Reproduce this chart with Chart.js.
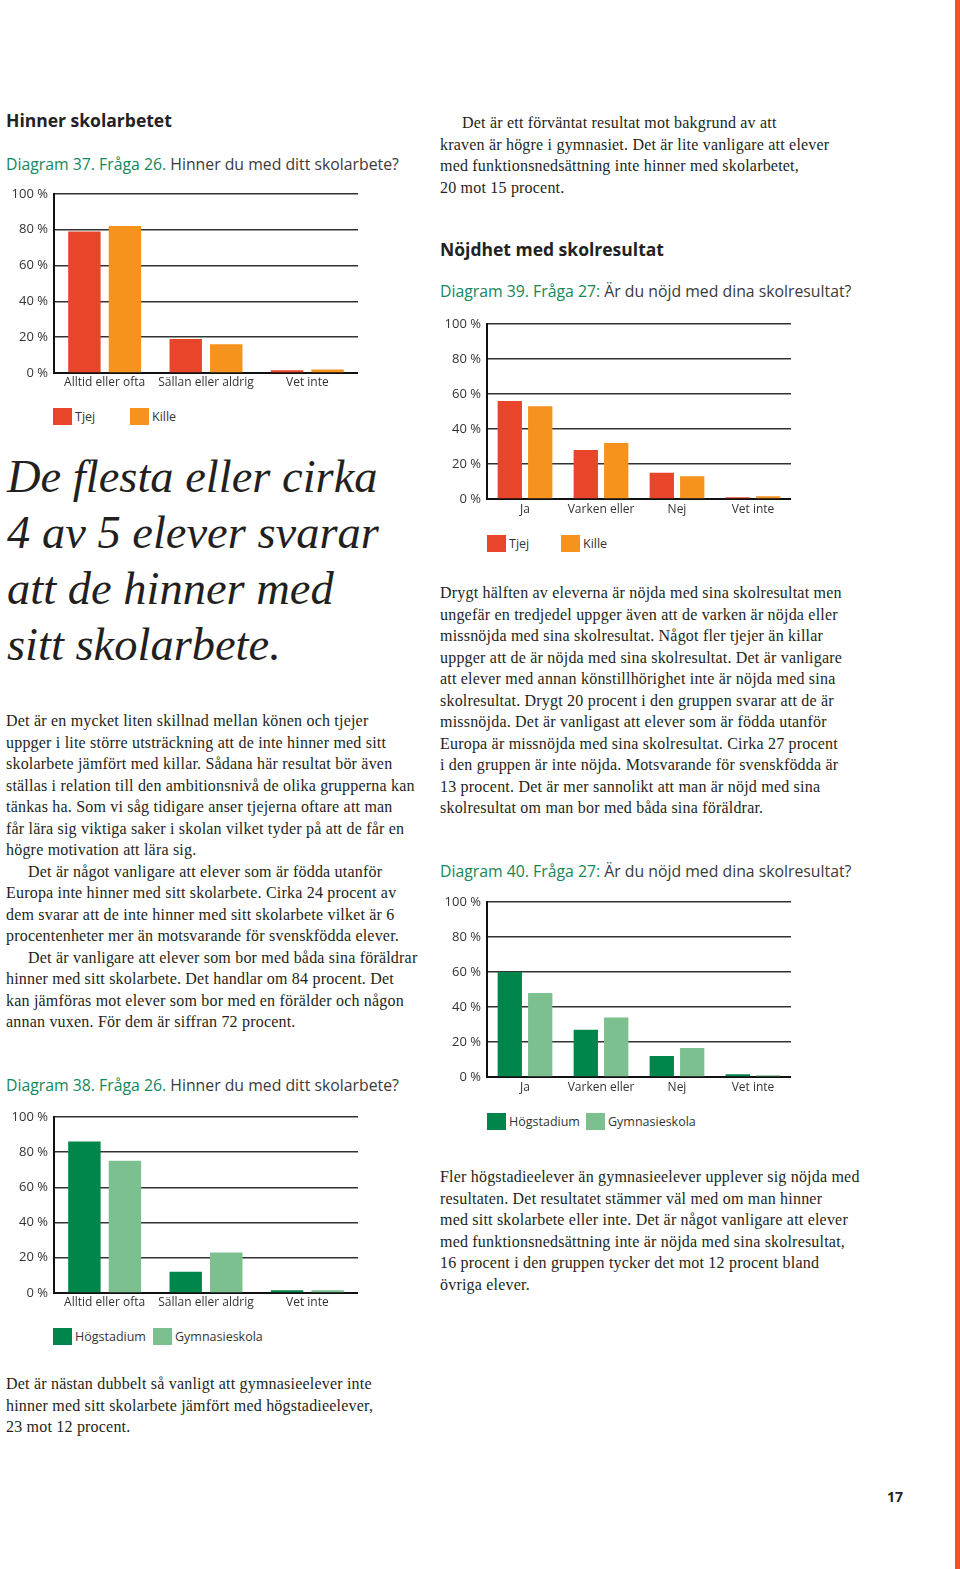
<!DOCTYPE html>
<html lang="sv">
<head>
<meta charset="utf-8">
<title>Hinner skolarbetet</title>
<script src="https://cdn.jsdelivr.net/npm/chart.js"></script>
<style>
    body { margin: 0; background: #fff; }
    #page { position: relative; width: 960px; height: 1569px; overflow: hidden; background: #fff; }
    .abs { position: absolute; white-space: nowrap; }
    .head { font-family: "Open Sans", sans-serif; font-weight: 700; font-size: 17.5px; line-height: 20px; color: #222; }
    .title { font-family: "Open Sans", sans-serif; font-size: 15.8px; line-height: 20px; color: #3a3a3a; }
    .title b { font-weight: 400; color: #13875a; }
    .body { font-family: "Liberation Serif", serif; font-size: 16px; letter-spacing: 0.2px; line-height: 21.5px; color: #231f20; }
    .ind { display: inline-block; width: 22px; }
    .quote { font-family: "Liberation Serif", serif; font-style: italic; font-size: 46.5px; line-height: 56px; color: #231f20; }
    .legend { position: absolute; font-family: "Open Sans", sans-serif; font-size: 12.5px; color: #333; }
    .legend span.item { position: absolute; top: 0; white-space: nowrap; line-height: 17px; }
    .legend i { display: inline-block; width: 19px; height: 17px; vertical-align: top; margin-right: 3px; }
    canvas { position: absolute; }
    #stripe { position: absolute; left: 955px; top: 0; width: 5px; height: 1569px; background: #f05323; }
</style>
</head>
<body>
<div id="page">
    <div id="stripe"></div>

    <div class="abs head" style="left:6px; top:110px;">Hinner skolarbetet</div>
    <div class="abs title" style="left:6px; top:154px;"><b>Diagram 37. Fråga 26.</b> Hinner du med ditt skolarbete?</div>
    <canvas id="chart37" width="358" height="215" style="left:0; top:180px;"></canvas>
    <div class="legend" id="legend37" style="left:53px; top:408px;"></div>

    <div class="abs quote" style="left:7px; top:449px;">De flesta eller cirka<br>4 av 5 elever svarar<br>att de hinner med<br>sitt skolarbete.</div>

    <div class="abs body" style="left:6px; top:710px;">Det är en mycket liten skillnad mellan könen och tjejer<br>uppger i lite större utsträckning att de inte hinner med sitt<br>skolarbete jämfört med killar. Sådana här resultat bör även<br>ställas i relation till den ambitionsnivå de olika grupperna kan<br>tänkas ha. Som vi såg tidigare anser tjejerna oftare att man<br>får lära sig viktiga saker i skolan vilket tyder på att de får en<br>högre motivation att lära sig.<br><span class="ind"></span>Det är något vanligare att elever som är födda utanför<br>Europa inte hinner med sitt skolarbete. Cirka 24 procent av<br>dem svarar att de inte hinner med sitt skolarbete vilket är 6<br>procentenheter mer än motsvarande för svenskfödda elever.<br><span class="ind"></span>Det är vanligare att elever som bor med båda sina föräldrar<br>hinner med sitt skolarbete. Det handlar om 84 procent. Det<br>kan jämföras mot elever som bor med en förälder och någon<br>annan vuxen. För dem är siffran 72 procent.</div>

    <div class="abs title" style="left:6px; top:1075px;"><b>Diagram 38. Fråga 26.</b> Hinner du med ditt skolarbete?</div>
    <canvas id="chart38" width="358" height="212" style="left:0; top:1103px;"></canvas>
    <div class="legend" id="legend38" style="left:53px; top:1328px;"></div>

    <div class="abs body" style="left:6px; top:1373px;">Det är nästan dubbelt så vanligt att gymnasieelever inte<br>hinner med sitt skolarbete jämfört med högstadieelever,<br>23 mot 12 procent.</div>

    <div class="abs body" style="left:440px; top:112px;"><span class="ind"></span>Det är ett förväntat resultat mot bakgrund av att<br>kraven är högre i gymnasiet. Det är lite vanligare att elever<br>med funktionsnedsättning inte hinner med skolarbetet,<br>20 mot 15 procent.</div>

    <div class="abs head" style="left:440px; top:239px;">Nöjdhet med skolresultat</div>
    <div class="abs title" style="left:440px; top:281px;"><b>Diagram 39. Fråga 27:</b> Är du nöjd med dina skolresultat?</div>
    <canvas id="chart39" width="361" height="211" style="left:430px; top:310px;"></canvas>
    <div class="legend" id="legend39" style="left:487px; top:535px;"></div>

    <div class="abs body" style="left:440px; top:582px;">Drygt hälften av eleverna är nöjda med sina skolresultat men<br>ungefär en tredjedel uppger även att de varken är nöjda eller<br>missnöjda med sina skolresultat. Något fler tjejer än killar<br>uppger att de är nöjda med sina skolresultat. Det är vanligare<br>att elever med annan könstillhörighet inte är nöjda med sina<br>skolresultat. Drygt 20 procent i den gruppen svarar att de är<br>missnöjda. Det är vanligast att elever som är födda utanför<br>Europa är missnöjda med sina skolresultat. Cirka 27 procent<br>i den gruppen är inte nöjda. Motsvarande för svenskfödda är<br>13 procent. Det är mer sannolikt att man är nöjd med sina<br>skolresultat om man bor med båda sina föräldrar.</div>

    <div class="abs title" style="left:440px; top:861px;"><b>Diagram 40. Fråga 27:</b> Är du nöjd med dina skolresultat?</div>
    <canvas id="chart40" width="361" height="211" style="left:430px; top:888px;"></canvas>
    <div class="legend" id="legend40" style="left:487px; top:1113px;"></div>

    <div class="abs body" style="left:440px; top:1166px;">Fler högstadieelever än gymnasieelever upplever sig nöjda med<br>resultaten. Det resultatet stämmer väl med om man hinner<br>med sitt skolarbete eller inte. Det är något vanligare att elever<br>med funktionsnedsättning inte är nöjda med sina skolresultat,<br>16 procent i den gruppen tycker det mot 12 procent bland<br>övriga elever.</div>

    <div class="abs head" style="left:887px; top:1487px; font-size:14px;">17</div>
</div>

<script>
// Categories
const hinnerLabels = ['Alltid eller ofta', 'Sällan eller aldrig', 'Vet inte'];
const nojdLabels = ['Ja', 'Varken eller', 'Nej', 'Vet inte'];

// Tick labels for the y axis (0, 20, ... 100)
const yTickLabels = ['0 %', '20 %', '40 %', '60 %', '80 %', '100 %'];

// Series names and colours
const genderNames = ['Tjej', 'Kille'];
const genderColors = ['#e9452a', '#f6921e'];
const schoolNames = ['Högstadium', 'Gymnasieskola'];
const schoolColors = ['#00864b', '#7cc08f'];

// Diagram 37 - hinner du med ditt skolarbete? (kön)
const d37Tjej = [79, 19, 1.5];
const d37Kille = [82, 16, 2];

// Diagram 38 - hinner du med ditt skolarbete? (skolform)
const d38Hog = [86, 12, 1.5];
const d38Gym = [75, 23, 1.5];

// Diagram 39 - är du nöjd med dina skolresultat? (kön)
const d39Tjej = [56, 28, 15, 1];
const d39Kille = [53, 32, 13, 1.5];

// Diagram 40 - är du nöjd med dina skolresultat? (skolform)
const d40Hog = [60, 27, 12, 1.5];
const d40Gym = [48, 34, 16.5, 1];

function makeChart(id, labels, series, names, colors, yWidth, labelPad) {
    const datasets = series.map(function(values, i) {
        return {
            label: names[i],
            data: values,
            backgroundColor: colors[i],
            borderWidth: 0,
            categoryPercentage: 0.8,
            barPercentage: 0.8
        };
    });
    return new Chart(document.getElementById(id), {
        type: 'bar',
        data: { labels: labels, datasets: datasets },
        options: {
            responsive: false,
            animation: false,
            devicePixelRatio: 1,
            layout: { padding: { top: 10, right: 0, bottom: 0, left: 0 } },
            plugins: { legend: { display: false }, tooltip: { enabled: false } },
            scales: {
                x: {
                    grid: { display: false, drawTicks: false },
                    border: { color: '#111', width: 2 },
                    ticks: {
                        color: '#333',
                        font: { family: 'Open Sans', size: 12 },
                        padding: labelPad,
                        maxRotation: 0,
                        autoSkip: false
                    },
                    afterFit: function(scale) { scale.height = 22; }
                },
                y: {
                    min: 0,
                    max: 100,
                    grid: { color: '#333', lineWidth: 1.5, drawTicks: false },
                    border: { color: '#111', width: 2 },
                    ticks: {
                        stepSize: 20,
                        color: '#333',
                        font: { family: 'Open Sans', size: 13 },
                        padding: 6,
                        callback: function(value) { return yTickLabels[value / 20]; }
                    },
                    afterFit: function(scale) { scale.width = yWidth; }
                }
            }
        }
    });
}

// Legend under each chart, built from the series names and colours
function makeLegend(id, names, colors, step) {
    const box = document.getElementById(id);
    names.forEach(function(name, i) {
        const item = document.createElement('span');
        item.className = 'item';
        item.style.left = (i * step) + 'px';
        item.innerHTML = '<i style="background:' + colors[i] + '"></i>' + name;
        box.appendChild(item);
    });
}

makeChart('chart37', hinnerLabels, [d37Tjej, d37Kille], genderNames, genderColors, 54, 2);
makeChart('chart38', hinnerLabels, [d38Hog, d38Gym], schoolNames, schoolColors, 54, 2);
makeChart('chart39', nojdLabels, [d39Tjej, d39Kille], genderNames, genderColors, 57, 3);
makeChart('chart40', nojdLabels, [d40Hog, d40Gym], schoolNames, schoolColors, 57, 3);

makeLegend('legend37', genderNames, genderColors, 77);
makeLegend('legend38', schoolNames, schoolColors, 100);
makeLegend('legend39', genderNames, genderColors, 74);
makeLegend('legend40', schoolNames, schoolColors, 99);
</script>
</body>
</html>
